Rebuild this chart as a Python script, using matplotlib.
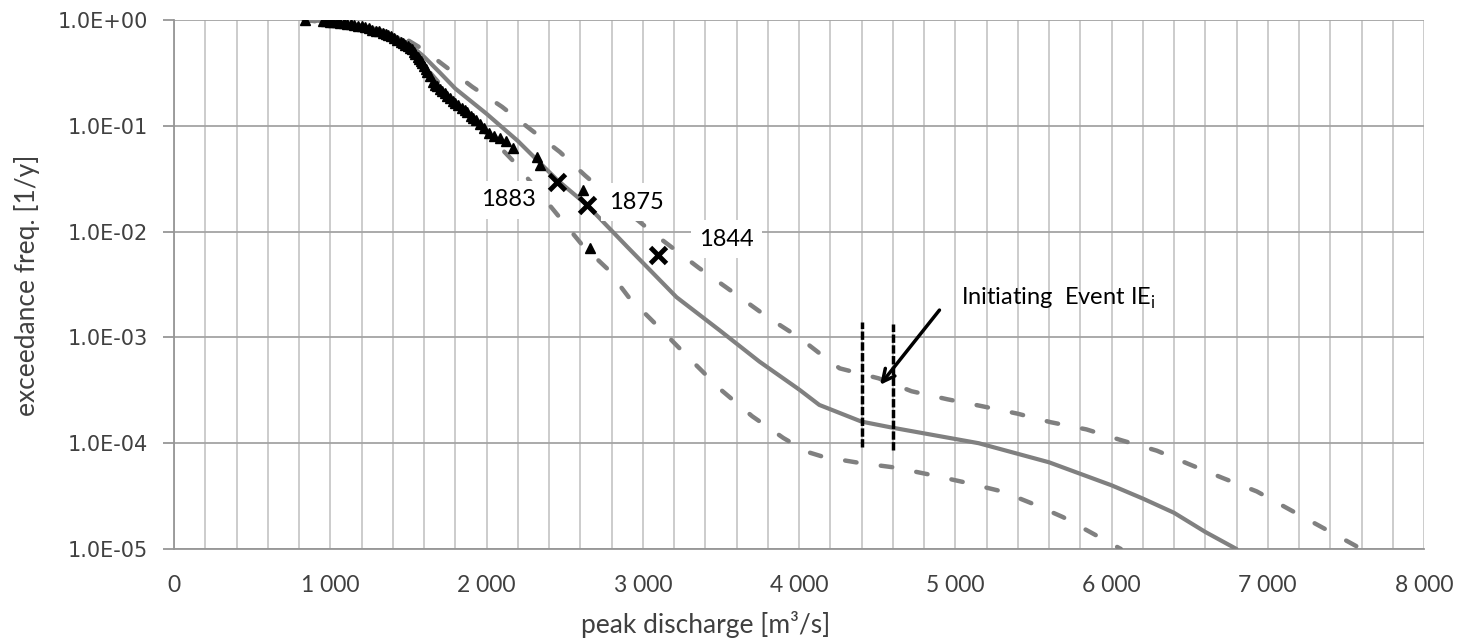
import matplotlib
matplotlib.use("Agg")
import matplotlib.pyplot as plt
from matplotlib.ticker import FixedLocator, FuncFormatter, MultipleLocator, NullLocator

# ---------------------------------------------------------------- data
# central estimate of the flood frequency curve
mean_q = [830, 1000, 1200, 1400, 1500, 1600, 1700, 1800, 2000, 2200, 2450,
          2640, 2900, 3216, 3491, 3747, 4003, 4130, 4400, 4600, 5150, 5600,
          6000, 6200, 6400, 6600, 6800]
mean_f = [1.0, 0.97, 0.89, 0.72, 0.60, 0.45, 0.32, 0.225, 0.13, 0.072, 0.031,
          0.018, 0.0072, 0.0024, 0.00117, 5.9e-4, 3.2e-4, 2.3e-4, 1.6e-4, 1.4e-4,
          1.0e-4, 6.6e-5, 4.0e-5, 3.0e-5, 2.2e-5, 1.45e-5, 1.0e-5]

# upper confidence bound
upper_q = [830, 1200, 1400, 1500, 1600, 1720, 1910, 2100, 2280, 2470, 2630,
           2850, 3090, 3360, 3540, 3800, 4000, 4130, 4260, 4510, 4720, 4950,
           5170, 5400, 5610, 5840, 6060, 6290, 6500, 6710, 6930, 7120, 7600]
upper_f = [1.0, 0.90, 0.74, 0.64, 0.52, 0.38, 0.233, 0.151, 0.093, 0.0565,
           0.034, 0.0178, 0.0091, 0.00453, 0.00293, 0.00155, 1.0e-3, 7.1e-4,
           5.1e-4, 4.1e-4, 3.1e-4, 2.6e-4, 2.24e-4, 1.9e-4, 1.58e-4, 1.35e-4,
           1.07e-4, 8.5e-5, 6.3e-5, 4.7e-5, 3.5e-5, 2.45e-5, 1.0e-5]

# lower confidence bound
lower_q = [830, 1200, 1400, 1500, 1600, 1700, 1800, 1900, 2000, 2180, 2470,
           2615, 2770, 2910, 3100, 3300, 3500, 3700, 3900, 4050, 4160, 4390,
           4610, 4850, 5050, 5300, 5490, 5690, 5900, 6060]
lower_f = [1.0, 0.88, 0.70, 0.55, 0.37, 0.25, 0.165, 0.118, 0.085, 0.045,
           0.0135, 0.0074, 0.0045, 0.0024, 0.00126, 6.3e-4, 3.2e-4, 1.8e-4,
           1.12e-4, 8.3e-5, 7.4e-5, 6.5e-5, 5.9e-5, 5.0e-5, 4.3e-5, 3.5e-5,
           2.7e-5, 2.0e-5, 1.35e-5, 1.0e-5]

# systematic record (triangles)
obs_q = [838, 953, 975, 1000, 1020, 1045, 1065, 1085, 1110, 1130, 1150, 1175,
         1200, 1225, 1245, 1270, 1290, 1310, 1335, 1355, 1370, 1390, 1410, 1430,
         1450, 1465, 1480, 1495, 1510, 1522, 1535, 1545, 1560, 1570, 1580, 1590,
         1600, 1610, 1620, 1637, 1656, 1670, 1682, 1700, 1715, 1733, 1750, 1765,
         1784, 1800, 1816, 1841, 1860, 1873, 1899, 1915, 1931, 1957, 1982, 2014,
         2046, 2084, 2123, 2168, 2321, 2340, 2615, 2660]
obs_f = [0.99, 0.975, 0.97, 0.965, 0.955, 0.95, 0.94, 0.93, 0.92, 0.91, 0.90,
         0.885, 0.87, 0.855, 0.84, 0.81, 0.795, 0.78, 0.755, 0.735, 0.72, 0.70,
         0.68, 0.65, 0.625, 0.605, 0.585, 0.565, 0.545, 0.53, 0.50, 0.48, 0.45,
         0.43, 0.41, 0.39, 0.365, 0.345, 0.325, 0.296, 0.26, 0.245, 0.238, 0.225,
         0.212, 0.204, 0.192, 0.182, 0.171, 0.164, 0.157, 0.147, 0.14, 0.135,
         0.124, 0.119, 0.114, 0.104, 0.095, 0.0855, 0.080, 0.0767, 0.0718,
         0.0617, 0.0507, 0.0426, 0.0247, 0.0070]

# historical floods (crosses)
hist_year = ["1883", "1875", "1844"]
hist_q = [2450, 2640, 3095]
hist_f = [0.0294, 0.0178, 0.0060]
hist_label_q = [2142, 2960, 3536]
hist_label_f = [0.0199, 0.0190, 0.0085]

# initiating event window
ie_bounds = [4400, 4600]
ie_top = [1.4e-3, 1.35e-3]
ie_bottom = [9.2e-5, 8.7e-5]

y_ticks = [1e0, 1e-1, 1e-2, 1e-3, 1e-4, 1e-5]
y_labels = ["1.0E+00", "1.0E-01", "1.0E-02", "1.0E-03", "1.0E-04", "1.0E-05"]

# ---------------------------------------------------------------- style
CURVE = "#808080"
TEXT = "#404040"
FONT = ["Lato", "DejaVu Sans"]

fig = plt.figure(figsize=(14.6, 6.43), dpi=100)
ax = fig.add_axes([174 / 1460, 94 / 643, 1250 / 1460, 529 / 643])

ax.set_yscale("log")
ax.set_xlim(0, 8000)
ax.set_ylim(1e-5, 1e0)

# grid: light verticals every 200, darker decade lines
ax.xaxis.set_major_locator(MultipleLocator(1000))
ax.xaxis.set_minor_locator(MultipleLocator(200))
ax.yaxis.set_major_locator(FixedLocator(y_ticks))
ax.yaxis.set_minor_locator(NullLocator())
ax.grid(which="both", axis="x", color="#c8c8c8", lw=1.3, zorder=0)
ax.grid(which="major", axis="y", color="#a4a4a4", lw=1.3, zorder=0)
ax.set_axisbelow(True)

for side in ("top", "right"):
    ax.spines[side].set_visible(False)
for side in ("left", "bottom"):
    ax.spines[side].set_color("#969696")
    ax.spines[side].set_linewidth(1.3)

ax.xaxis.set_major_formatter(FuncFormatter(lambda v, p: f"{int(v):,}".replace(",", " ")))
ax.tick_params(axis="x", which="both", length=0, pad=19, labelsize=16.5,
               labelcolor=TEXT)
ax.tick_params(axis="y", which="major", length=8, width=1.3, color="#969696",
               pad=11, labelsize=15, labelcolor=TEXT)
for lab in ax.get_xticklabels():
    lab.set_family(FONT)
ax.set_yticklabels(y_labels, family="DejaVu Sans")

# curves
ax.plot(mean_q, mean_f, color=CURVE, lw=3.0, solid_capstyle="round", zorder=3)
for q, f in ((upper_q, upper_f), (lower_q, lower_f)):
    ax.plot(q, f, color=CURVE, lw=3.2, dashes=(2.6, 5.5),
            dash_capstyle="round", zorder=3)

ax.plot(obs_q, obs_f, ls="none", marker="^", ms=6.5, color="black", zorder=4)

# labels of historical floods sit on white boxes that hide the grid
for yr, lq, lf in zip(hist_year, hist_label_q, hist_label_f):
    ax.text(lq, lf, yr, ha="center", va="center", fontsize=17, family=FONT,
            color="black", zorder=5,
            bbox=dict(boxstyle="square,pad=0.35", facecolor="white",
                      edgecolor="none"))
ax.plot(hist_q, hist_f, ls="none", marker="x", ms=12, mew=3.5, color="black",
        zorder=6)

# initiating event
for x0, y0, y1 in zip(ie_bounds, ie_top, ie_bottom):
    ax.plot([x0, x0], [y1, y0], color="black", lw=2.5, dashes=(2.4, 0.7),
            zorder=6)
ax.annotate("", xy=(4508, 3.4e-4), xytext=(4910, 1.9e-3),
            arrowprops=dict(arrowstyle="->", color="black", lw=2.5,
                            mutation_scale=22), zorder=7)
ax.text(5038, 2.02e-3, r"Initiating  Event IE$_\mathregular{i}$", ha="left",
        va="baseline", fontsize=17, family=FONT, color="black", zorder=7)

fig.text(706 / 1460, 1 - 625 / 643, "peak discharge [m³/s]", ha="center",
         va="center", fontsize=19, family=FONT, color=TEXT)
fig.text(27 / 1460, 1 - 285 / 643, "exceedance freq. [1/y]", ha="center",
         va="center", rotation=90, fontsize=19, family=FONT, color=TEXT)

fig.savefig("out.png", dpi=100, facecolor="white")
